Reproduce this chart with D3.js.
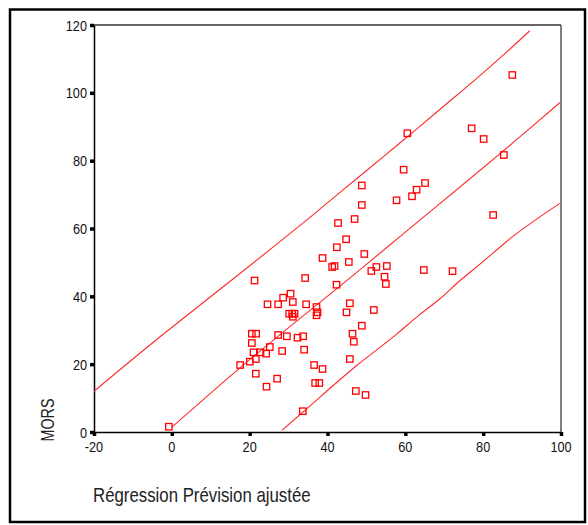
<!DOCTYPE html>
<html><head><meta charset="utf-8">
<script src="https://cdn.jsdelivr.net/npm/d3@7"></script>
<style>html,body{margin:0;padding:0;background:#fff;}svg{display:block;}</style>
</head><body>
<script>
// ---- data ----
const xTicks = [-20, 0, 20, 40, 60, 80, 100];
const yTicks = [0, 20, 40, 60, 80, 100, 120];
const xTitle = "Régression Prévision ajustée";
const yTitle = "MORS";

// predicted (adjusted) values
const predX = [-0.77,17.55,20.04,20.56,21.66,20.56,20.99,21.25,21.58,21.58,22.79,24.23,24.33,24.59,25.18,27.06,27.31,27.31,28.34,28.60,
  29.55,30.14,30.50,30.91,31.09,31.09,31.53,32.30,33.74,33.66,34.00,34.25,34.51,36.56,36.82,37.18,37.44,37.18,37.90,38.72,
  38.72,41.19,41.81,42.32,42.40,42.71,44.79,44.89,45.48,45.74,45.74,46.43,46.77,46.97,47.28,48.82,48.82,48.82,49.46,49.77,
  51.26,51.91,52.55,54.65,54.99,55.25,57.74,59.56,60.51,61.72,62.90,65.06,64.75,72.13,77.04,80.12,82.56,85.31,87.49];
// observed MORS
const mors = [1.56,19.75,20.73,28.98,28.98,26.24,23.50,44.67,21.52,17.19,23.50,23.09,13.36,37.65,25.06,15.71,37.65,28.60,23.88,39.60,
  28.22,34.88,40.78,34.88,38.33,33.99,34.88,27.80,28.22,6.13,24.27,45.40,37.65,19.75,14.45,36.85,35.29,34.41,14.45,51.30,
  18.57,48.65,48.94,43.43,54.46,61.62,56.82,35.29,50.12,37.95,21.52,28.98,26.62,62.80,12.09,72.68,66.93,31.34,52.48,10.91,
  47.47,35.97,48.65,45.79,43.64,48.94,68.31,77.34,88.07,69.49,71.44,73.41,47.76,47.41,89.54,86.39,63.98,81.67,105.26];

// fit line and prediction limits
const fitX = [0.0, 17.5, 48.3, 58.6, 92.0, 99.7];
const fitY = [1.4, 18.9, 47.8, 57.6, 89.5, 97.1];
const upperX = [-20, -3.1, 12.3, 26.0, 35.5, 44.0, 49.2, 56.9, 62.9, 69.7, 79.1, 86.0, 92.0];
const upperY = [12.0, 28.0, 42.0, 54.5, 63.3, 71.4, 76.3, 83.6, 89.3, 95.9, 105.0, 112.0, 118.3];
const lowerX = [28.3, 33.7, 47.5, 57.7, 63.7, 68.9, 74.0, 79.1, 86.9, 99.7];
const lowerY = [0.5, 5.9, 19.6, 28.8, 34.6, 39.3, 44.6, 49.4, 57.0, 67.4];

// ---- drawing ----
const W = 588, H = 525;
const svg = d3.select("body").append("svg").attr("width", W).attr("height", H);
const x = d3.scaleLinear().domain([-20, 100]).range([94, 561]);
const y = d3.scaleLinear().domain([0, 120]).range([432, 25]);
const FONT = "'Liberation Sans', Arial, sans-serif";
const SX = 0.82;

// outer frame
svg.append("rect").attr("x", 10).attr("y", 9.5).attr("width", 575).attr("height", 512.5)
  .attr("fill", "none").attr("stroke", "#000").attr("stroke-width", 2.5);

svg.append("clipPath").attr("id", "plotclip").append("rect")
  .attr("x", x(-20)).attr("y", y(120)).attr("width", x(100) - x(-20)).attr("height", y(0) - y(120));

// plot frame top / right
svg.append("line").attr("x1", x(-20)).attr("x2", x(100)).attr("y1", y(120)).attr("y2", y(120))
  .attr("stroke", "#333").attr("stroke-width", 1.5);
svg.append("line").attr("x1", x(100)).attr("x2", x(100)).attr("y1", y(120)).attr("y2", y(0))
  .attr("stroke", "#555").attr("stroke-width", 1.5);

// axes
const gx = svg.append("g").attr("transform", `translate(0,${y(0)})`)
  .call(d3.axisBottom(x).tickValues(xTicks).tickSize(4).tickSizeOuter(0).tickFormat(""));
const gy = svg.append("g").attr("transform", `translate(${x(-20)},0)`)
  .call(d3.axisLeft(y).tickValues(yTicks).tickSize(4).tickSizeOuter(0).tickFormat(""));
[gx, gy].forEach(g => {
  g.select(".domain").attr("stroke", "#000").attr("stroke-width", 1.5);
  g.selectAll(".tick line").attr("stroke", "#000").attr("stroke-width", 3.5);
});

// tick labels (narrow font look)
svg.append("g").selectAll("text").data(xTicks).join("text")
  .attr("transform", d => `translate(${x(d)},452) scale(${SX},1)`)
  .attr("text-anchor", "middle").attr("font-family", FONT).attr("font-size", 15.5)
  .attr("fill", "#111").text(d => d);
svg.append("g").selectAll("text").data(yTicks).join("text")
  .attr("transform", d => `translate(87,${y(d) + 5.5}) scale(${SX},1)`)
  .attr("text-anchor", "end").attr("font-family", FONT).attr("font-size", 15.5)
  .attr("fill", "#111").text(d => d);

// titles
svg.append("text").attr("transform", `translate(93,501.5) scale(${SX},1)`)
  .attr("font-family", FONT).attr("font-size", 20.5).attr("fill", "#222").text(xTitle);
svg.append("text").attr("transform", `translate(54,420) rotate(-90) scale(${SX},1)`)
  .attr("text-anchor", "middle").attr("font-family", FONT).attr("font-size", 17.5)
  .attr("fill", "#222").text(yTitle);

// lines
const lineGen = d3.line().x(d => x(d[0])).y(d => y(d[1])).curve(d3.curveMonotoneX);
const curves = [d3.zip(fitX, fitY), d3.zip(upperX, upperY), d3.zip(lowerX, lowerY)];
svg.append("g").attr("clip-path", "url(#plotclip)").selectAll("path").data(curves).join("path")
  .attr("d", lineGen).attr("fill", "none").attr("stroke", "#ff2a2a").attr("stroke-width", 1.1);

// points
const pts = d3.zip(predX, mors);
svg.append("g").selectAll("rect").data(pts).join("rect")
  .attr("x", d => x(d[0]) - 3.2).attr("y", d => y(d[1]) - 3.2)
  .attr("width", 6.4).attr("height", 6.4)
  .attr("fill", "none").attr("stroke", "#ff0000").attr("stroke-width", 1.3);
</script>
</body></html>
